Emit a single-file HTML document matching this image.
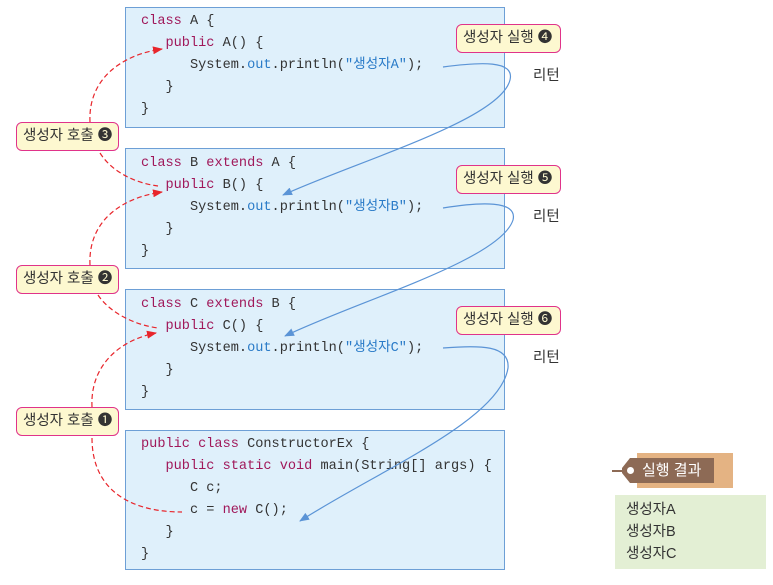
<!DOCTYPE html>
<html><head><meta charset="utf-8"><style>
body{margin:0;width:773px;height:585px;background:#fff;position:relative;overflow:hidden;font-family:"Liberation Sans","Noto Sans CJK KR",sans-serif}
.box{position:absolute;left:125px;width:378px;background:#dff0fb;border:1.5px solid #6d9fd6}
.code{position:absolute;left:141px;font-family:"Liberation Mono","Noto Sans CJK KR",monospace;font-size:13.6px;color:#333;white-space:pre;line-height:22px}
.k{color:#a0185a}.b{color:#2a7bc8}
.lab{position:absolute;background:#fdf8d0;border:1.5px solid #e0338a;border-radius:6px;font-size:14.5px;color:#333;height:29px;line-height:27px;padding:0 6px;box-sizing:border-box;white-space:nowrap}
.ret{position:absolute;left:533px;font-size:14.5px;color:#333}
svg{position:absolute;left:0;top:0}
</style></head><body>
<div class="box" style="top:7px;height:119px"></div>
<div class="box" style="top:148px;height:119px"></div>
<div class="box" style="top:289px;height:119px"></div>
<div class="box" style="top:430px;height:138px"></div>
<div class="code" style="top:11px"><span class="k">class</span> A {
   <span class="k">public</span> A() {
      System.<span class="b">out</span>.println(<span class="b">"생성자A"</span>);
   }
}</div>
<div class="code" style="top:153px"><span class="k">class</span> B <span class="k">extends</span> A {
   <span class="k">public</span> B() {
      System.<span class="b">out</span>.println(<span class="b">"생성자B"</span>);
   }
}</div>
<div class="code" style="top:294px"><span class="k">class</span> C <span class="k">extends</span> B {
   <span class="k">public</span> C() {
      System.<span class="b">out</span>.println(<span class="b">"생성자C"</span>);
   }
}</div>
<div class="code" style="top:434px"><span class="k">public class</span> ConstructorEx {
   <span class="k">public static void</span> main(String[] args) {
      C c;
      c = <span class="k">new</span> C();
   }
}</div>
<div class="lab" style="left:16px;top:122px;width:103px">생성자 호출 ❸</div>
<div class="lab" style="left:16px;top:265px;width:103px">생성자 호출 ❷</div>
<div class="lab" style="left:16px;top:407px;width:103px">생성자 호출 ❶</div>
<div class="lab" style="left:456px;top:24px;width:105px">생성자 실행 ❹</div>
<div class="lab" style="left:456px;top:165px;width:105px">생성자 실행 ❺</div>
<div class="lab" style="left:456px;top:306px;width:105px">생성자 실행 ❻</div>
<div class="ret" style="top:64px">리턴</div>
<div class="ret" style="top:205px">리턴</div>
<div class="ret" style="top:346px">리턴</div>
<svg width="773" height="585">
<defs>
<marker id="r" markerWidth="10" markerHeight="8" refX="9" refY="4" orient="auto" markerUnits="userSpaceOnUse"><path d="M0,0 L10,4 L0,8 z" fill="#e8262c"/></marker>
<marker id="bl" markerWidth="10" markerHeight="8" refX="9" refY="4" orient="auto" markerUnits="userSpaceOnUse"><path d="M0,0 L10,4 L0,8 z" fill="#5b94d6"/></marker>
</defs>
<g fill="none" stroke="#e8262c" stroke-width="1.2" stroke-dasharray="5,3">
<path d="M90,122 C88,80 120,55 162,49" marker-end="url(#r)"/>
<path d="M100,153 C112,172 135,183 158,186"/>
<path d="M90,265 C88,222 120,198 162,192" marker-end="url(#r)"/>
<path d="M98,295 C110,313 135,325 158,328"/>
<path d="M92,407 C90,365 120,340 156,333" marker-end="url(#r)"/>
<path d="M92,438 C92,490 130,512 182,512"/>
</g>
<g fill="none" stroke="#5b94d6" stroke-width="1.2">
<path d="M443,67 C480,62 515,60 510,80 C500,120 360,160 283,195" marker-end="url(#bl)"/>
<path d="M443,208 C480,202 518,200 513,220 C500,260 360,300 285,336" marker-end="url(#bl)"/>
<path d="M443,348 C480,345 510,345 508,368 C500,420 380,470 300,521" marker-end="url(#bl)"/>
</g>
</svg>
<div style="position:absolute;left:637px;top:453px;width:96px;height:35px;background:#e4b383"></div>
<div style="position:absolute;left:622px;top:458px;width:92px;height:25px;background:#8d6a55;clip-path:polygon(8px 0,100% 0,100% 100%,8px 100%,0 60%,0 40%)"></div>
<div style="position:absolute;left:612px;top:470px;width:14px;height:1.5px;background:#8d6a55"></div>
<div style="position:absolute;left:627px;top:467px;width:7px;height:7px;border-radius:50%;background:#fff"></div>
<div style="position:absolute;left:642px;top:459px;font-size:15px;color:#fff;line-height:24px">실행 결과</div>
<div style="position:absolute;left:615px;top:495px;width:151px;height:74px;background:#e3efd4"></div>
<div style="position:absolute;left:626px;top:499px;font-size:14.5px;color:#333;line-height:22px">생성자A<br>생성자B<br>생성자C</div>
</body></html>
